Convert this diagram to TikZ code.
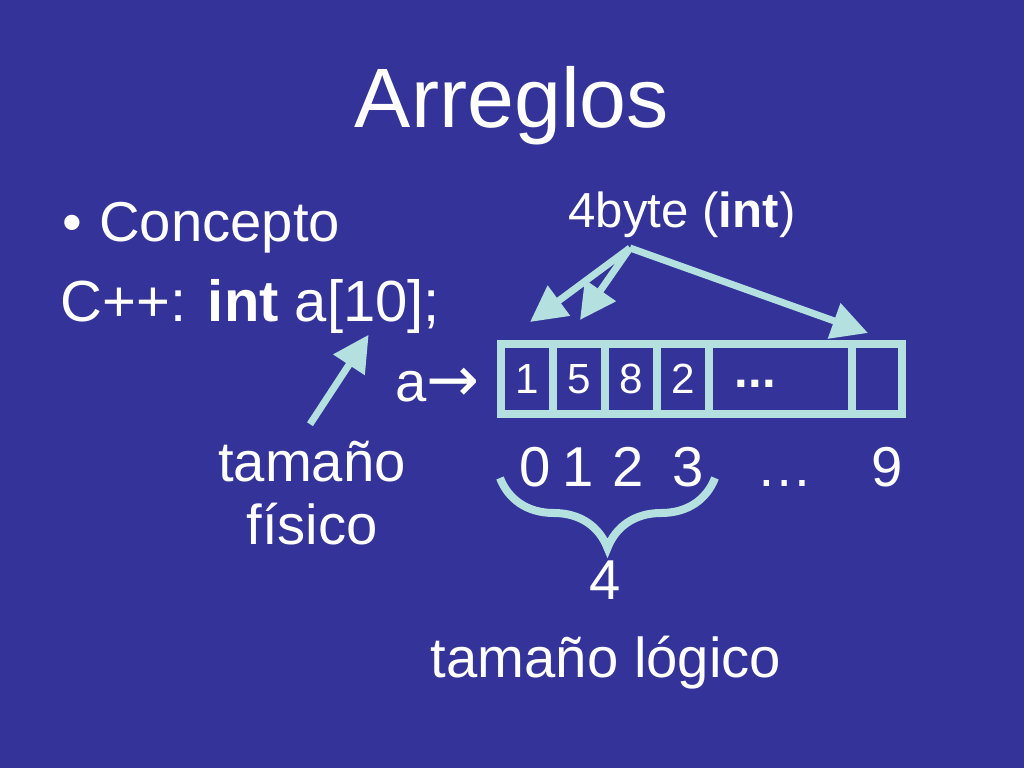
\documentclass[tikz,border=0pt]{standalone}
\usepackage{fontspec}
\setmainfont{Liberation Sans}
\newfontfamily\arrowfont{DejaVu Sans}
\usetikzlibrary{arrows.meta,decorations.pathreplacing}
\definecolor{slidebg}{RGB}{51,51,153}
\definecolor{lblue}{RGB}{180,224,224}
\tikzset{
  txt/.style={text=white,inner sep=0pt,font=\fontsize{16}{18}\selectfont},
  cell/.style={draw=lblue,line width=0.08cm,minimum height=0.70cm,inner sep=0pt,outer sep=0pt,
    text=white,font=\fontsize{12}{14}\selectfont},
  ptr/.style={draw=lblue,line width=0.07cm,-{Triangle[length=0.36cm,width=0.36cm]}}
}
\begin{document}
\begin{tikzpicture}
            \fill[slidebg] (0,0) rectangle (10.24,7.68);
            \node[txt,anchor=base,font=\fontsize{24}{28}\selectfont] (title) at (5.12,6.40) {Arreglos};
            \node[txt,anchor=base west] (item) at (0.62,5.26) {•\hspace{0.3em}Concepto};
            \node[txt,anchor=base west,font=\fontsize{16.5}{18}\selectfont] (code) at (0.60,4.46) {C++: \textbf{int} a[10];};
            \node[txt,anchor=base west] (aname) at (3.95,3.66) {a{\arrowfont\fontsize{18}{18}\selectfont →}};
            \node[txt,anchor=base,font=\fontsize{14}{16}\selectfont] (bytes) at (6.82,5.40) {4byte (\textbf{int})};
            \foreach \v [count=\i from 0] in {1,5,8,2}
                \node[cell,minimum width=0.52cm] (c\i) at ({5.27+0.52*\i},3.89) {\v};
            \node[cell,minimum width=1.43cm] (cdots) at (7.805,3.89) {\vphantom{1}\raisebox{0.06cm}{\fontsize{14}{16}\selectfont\textbf{...}}\kern0.5cm};
            \node[cell,minimum width=0.50cm] (c9) at (8.77,3.89) {};
            \coordinate (src) at ([shift={(-0.52,-0.20)}]bytes.base);
            \draw[ptr] (src) -- ([shift={(0.03,0.22)}]c0.north);
            \draw[ptr] (src) -- ([shift={(0.01,0.24)}]c1.north);
            \draw[ptr] (src) -- ([shift={(-0.09,0.11)}]c9.north);
            \foreach \x/\n/\t in {5.35/0/0,5.78/1/1,6.28/2/2,6.88/3/3,7.85/dots/…,8.87/9/9}
                \node[txt,anchor=base] (i\n) at (\x,2.81) {\t};
            \draw[lblue,line width=0.08cm,decorate,decoration={brace,mirror,amplitude=0.7cm}]
                ([shift={(-0.35,0.09)}]i0.base) -- ([shift={(0.27,0.09)}]i3.base);
            \node[txt,anchor=base] (nlog) at (6.05,1.68) {4};
            \node[txt,anchor=base] (lbl) at (6.06,0.90) {tamaño lógico};
            \node[txt,align=center] (fis) at (3.12,2.75) {tamaño\\físico};
            \draw[ptr] ([shift={(-0.02,0.16)}]fis.north) -- ([shift={(-0.72,0)}]code.south east);
        \end{tikzpicture}
\end{document}
